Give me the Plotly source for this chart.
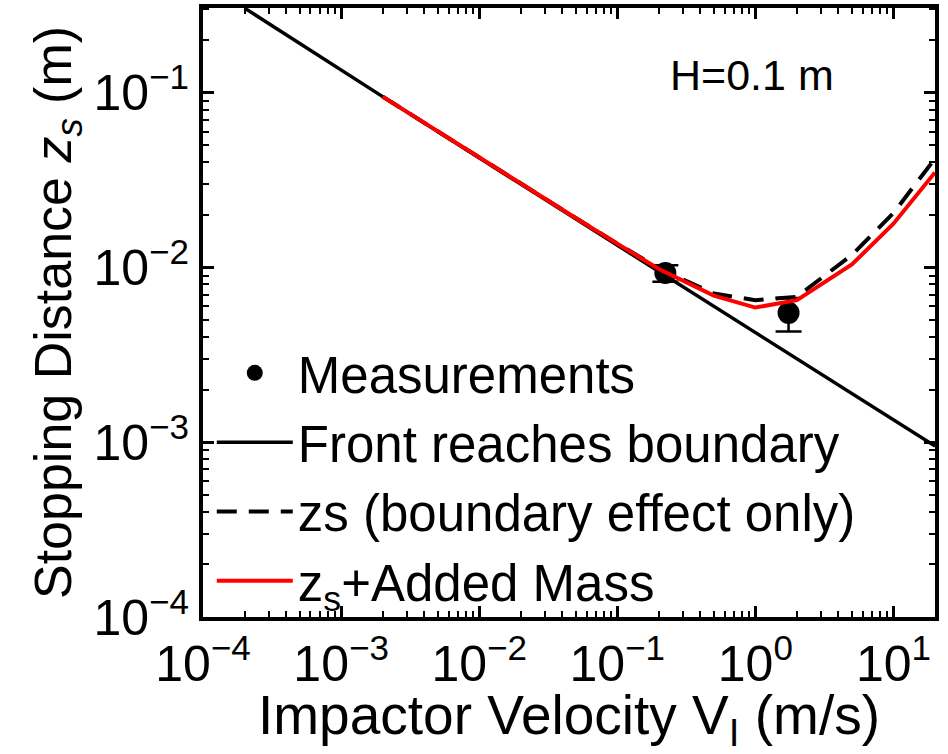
import plotly.graph_objects as go

# Measured stopping distances (m) vs impactor velocity (m/s)
meas_velocity = [0.223, 1.74]
meas_z = [0.0093, 0.0055]
meas_err = [0.0010, 0.0012]

# Front reaching the boundary (power law, straight in log-log)
front_velocity = [2e-4, 2e-3, 2e-2, 2e-1, 2, 20]
front_z = [0.305, 0.095, 0.030, 0.0095, 0.0030, 0.00095]

# Stopping distance with boundary effect only
boundary_velocity = [0.002, 0.005, 0.01, 0.02, 0.05, 0.1, 0.2, 0.5, 1, 2, 5, 10, 20]
boundary_z = [0.095, 0.060, 0.0425, 0.0302, 0.0192, 0.0137, 0.0099,
              0.0071, 0.0065, 0.0068, 0.0118, 0.0205, 0.042]

# Stopping distance with boundary effect plus added mass
added_velocity = [0.002, 0.005, 0.01, 0.02, 0.05, 0.1, 0.2, 0.5, 1, 2, 5, 10, 20]
added_z = [0.095, 0.060, 0.0425, 0.0302, 0.0192, 0.0137, 0.0098,
           0.0069, 0.0059, 0.0065, 0.0104, 0.0178, 0.035]

x_tickvals = [1e-4, 1e-3, 1e-2, 1e-1, 1, 10]
x_ticktext = ["10<sup>\u22124</sup>", "10<sup>\u22123</sup>", "10<sup>\u22122</sup>",
              "10<sup>\u22121</sup>", "10<sup>0</sup>", "10<sup>1</sup>"]
y_tickvals = [1e-4, 1e-3, 1e-2, 1e-1]
y_ticktext = ["10<sup>\u22124</sup>", "10<sup>\u22123</sup>", "10<sup>\u22122</sup>",
              "10<sup>\u22121</sup>"]

FONT = "Liberation Sans, Arial, Helvetica, sans-serif"

fig = go.Figure()

fig.add_trace(go.Scatter(
    x=meas_velocity, y=meas_z, mode="markers", name="Measurements",
    marker=dict(color="black", size=22),
    error_y=dict(type="data", array=meas_err, visible=True,
                 color="black", thickness=2.5, width=13),
))
fig.add_trace(go.Scatter(
    x=front_velocity, y=front_z, mode="lines", name="Front reaches boundary",
    line=dict(color="black", width=3.5),
))
fig.add_trace(go.Scatter(
    x=boundary_velocity, y=boundary_z, mode="lines", name="zs (boundary effect only)",
    line=dict(color="black", width=4, dash="20px,12px"),
))
fig.add_trace(go.Scatter(
    x=added_velocity, y=added_z, mode="lines", name="z<sub>s</sub>+Added Mass",
    line=dict(color="#ff0000", width=4),
))

axis_common = dict(
    type="log",
    showline=True, linecolor="black", linewidth=4, mirror="allticks",
    ticks="inside", ticklen=11, tickwidth=2.5, tickcolor="black",
    showgrid=False, zeroline=False,
    tickfont=dict(family=FONT, size=50, color="black"),
    minor=dict(dtick="D1", ticks="inside", ticklen=6, tickwidth=2,
               tickcolor="black", showgrid=False),
)

fig.update_xaxes(
    **axis_common,
    range=[-4, 1.301],
    tickmode="array", tickvals=x_tickvals, ticktext=x_ticktext,
    title=dict(text="Impactor Velocity V<sub>I</sub> (m/s)",
               font=dict(family=FONT, size=55, color="black"), standoff=14),
)
fig.update_yaxes(
    **axis_common,
    range=[-4, -0.515],
    tickmode="array", tickvals=y_tickvals, ticktext=y_ticktext,
    title=dict(text="Stopping Distance <i>z</i><sub><i>s</i></sub> (m)",
               font=dict(family=FONT, size=52, color="black"), standoff=6),
)

fig.add_annotation(
    text="H=0.1 m", xref="paper", yref="paper", x=0.75, y=0.89,
    xanchor="center", yanchor="middle",
    showarrow=False, font=dict(family=FONT, size=43, color="black"),
)

fig.update_layout(
    width=948, height=754,
    margin=dict(l=203, r=13, t=8, b=137, autoexpand=False),
    paper_bgcolor="white", plot_bgcolor="white",
    font=dict(family=FONT, color="black"),
    legend=dict(
        x=0.012, y=0.466, xanchor="left", yanchor="top",
        bgcolor="rgba(0,0,0,0)", borderwidth=0,
        font=dict(family=FONT, size=51, color="black"),
        itemwidth=76, tracegroupgap=0,
    ),
)

fig.write_html("out.html")
